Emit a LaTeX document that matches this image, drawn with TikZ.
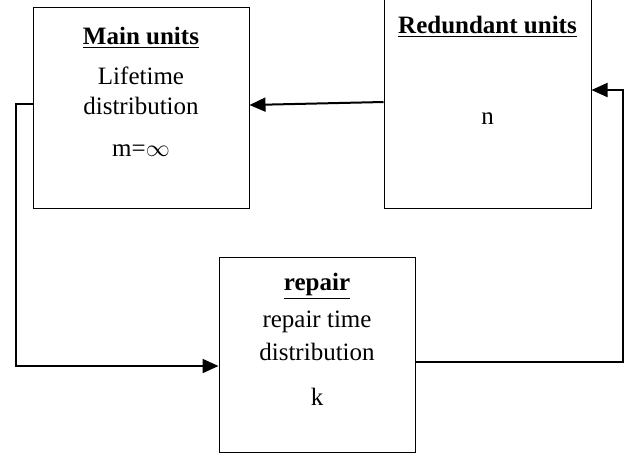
\documentclass[tikz,border=0pt]{standalone}
\usepackage{fontspec}
\setmainfont{Liberation Serif}
\usetikzlibrary{arrows.meta}

\begin{document}
\begin{tikzpicture}[x=0.5pt,y=-0.5pt,
    box/.style={draw,line width=0.5pt,inner sep=0pt},
    conn/.style={line width=1pt},
    tip/.style={-{Triangle[length=8pt,width=7pt]}},
    txt/.style={font=\fontsize{12.5}{15}\selectfont,inner sep=0pt}]
    \useasboundingbox (0,0) rectangle (632,457);
    % boxes
    \node[box,minimum width=108pt,minimum height=100.5pt] (main) at (141,107.5) {};
    \node[box,minimum width=103.5pt,minimum height=114pt] (red) at (487.5,94) {};
    \node[box,minimum width=98pt,minimum height=97.5pt] (rep) at (317,354.5) {};
    % texts
    \node[txt] (mainT) at (141,38) {\underline{\textbf{Main units}}};
    \node[txt] (mainA) at (141,76) {Lifetime};
    \node[txt] (mainB) at (141,106) {distribution};
    \node[txt] (mainC) at (141,151) {m=$\infty$};
    \node[txt] (redT) at (487.5,27) {\underline{\textbf{Redundant units}}};
    \node[txt] (redA) at (487.5,119) {n};
    \node[txt] (repT) at (317,286) {\underline{\textbf{repair}}};
    \node[txt] (repA) at (317,322) {repair time};
    \node[txt] (repB) at (317,352) {distribution};
    \node[txt] (repC) at (317,397) {k};
    % connectors
    \coordinate (cl) at (16,104);
    \coordinate (cr) at (623,90);
    \draw[conn,tip] (red.west|-0,102) -- (main.east|-0,105);
    \draw[conn,tip] (main.west|-0,104) -- (cl) -- (cl|-0,366) -- (rep.west|-0,366);
    \draw[conn,tip] (rep.east|-0,362) -- (cr|-0,362) -- (cr) -- (red.east|-0,90);
\end{tikzpicture}
\end{document}
